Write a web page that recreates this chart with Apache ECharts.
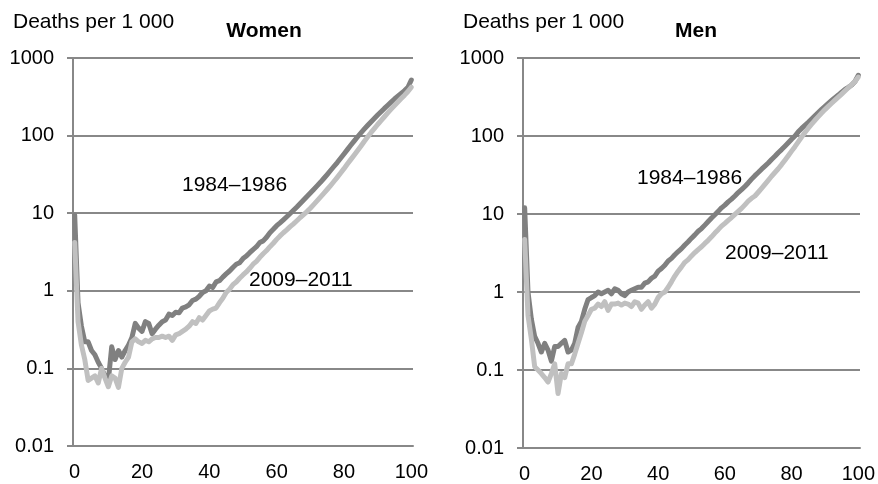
<!DOCTYPE html>
<html>
<head>
<meta charset="utf-8">
<script src="https://cdn.jsdelivr.net/npm/echarts@6/dist/echarts.min.js"></script>
<style>html,body{margin:0;padding:0;background:#fff}#c{width:878px;height:484px}</style>
</head>
<body>
<div id="c"></div>
<script>
const ages = Array.from({length: 101}, (_, i) => String(i));
const yTicks = ['0.01', '0.1', '1', '10', '100', '1000'];
const seriesNames = ['1984–1986', '2009–2011'];
const panelTitles = ['Women', 'Men'];
const yAxisTitle = 'Deaths per 1 000';

const womenOld = [9.5,0.7,0.35,0.22,0.22,0.17,0.15,0.12,0.1,0.08,
  0.07,0.19,0.13,0.17,0.14,0.17,0.2,0.25,0.38,0.33,
  0.3,0.4,0.38,0.28,0.32,0.36,0.4,0.42,0.5,0.48,
  0.53,0.52,0.6,0.62,0.66,0.75,0.78,0.85,0.95,1.0,
  1.15,1.1,1.3,1.35,1.5,1.65,1.8,2.0,2.2,2.3,
  2.6,2.8,3.1,3.4,3.7,4.2,4.4,4.9,5.6,6.2,
  6.9,7.5,8.2,9.0,9.9,10.9,12.0,13.3,14.8,16.4,
  18.2,20.2,22.5,25,28,31.5,35.5,40,45,51,
  58,66,75,85,96,108,121,135,150,166,
  184,203,224,246,270,296,322,350,380,420,520];
const womenNew = [4.2,0.4,0.2,0.13,0.07,0.075,0.08,0.065,0.1,0.075,
  0.058,0.08,0.075,0.057,0.1,0.12,0.14,0.22,0.24,0.22,
  0.21,0.23,0.22,0.24,0.25,0.25,0.26,0.25,0.26,0.23,
  0.27,0.28,0.3,0.32,0.35,0.4,0.38,0.45,0.42,0.48,
  0.55,0.58,0.6,0.7,0.8,0.95,1.05,1.2,1.3,1.45,
  1.6,1.75,1.95,2.2,2.4,2.7,3.0,3.3,3.7,4.1,
  4.6,5.1,5.6,6.1,6.7,7.3,8.0,8.8,9.6,10.5,
  11.6,12.9,14.4,16.1,18.0,20.2,22.7,25.6,29,33,
  37.5,43,49,56,64,73,84,96,109,123,
  139,156,175,196,219,244,271,300,332,370,420];
const menOld = [12,1.0,0.45,0.27,0.22,0.17,0.22,0.18,0.13,0.2,
  0.2,0.22,0.24,0.17,0.18,0.22,0.35,0.42,0.6,0.8,
  0.85,0.9,1.0,0.95,1.0,1.05,0.95,1.1,1.05,0.95,
  0.9,1.0,1.05,1.1,1.15,1.15,1.3,1.35,1.5,1.6,
  1.85,2.0,2.2,2.5,2.7,3.0,3.3,3.6,4.0,4.4,
  4.9,5.4,6.0,6.5,7.2,8.0,8.9,9.8,10.8,12.0,
  13.0,14.3,15.5,17.0,18.8,20.5,22.5,25,28,31,
  34,37.5,41,45,50,55,61,67,74,82,
  91,100,113,125,137,150,165,182,200,220,
  240,262,285,310,335,365,395,420,450,500,600];
const menNew = [4.7,0.5,0.25,0.11,0.1,0.09,0.08,0.07,0.09,0.12,
  0.05,0.09,0.08,0.12,0.12,0.16,0.22,0.3,0.42,0.5,
  0.6,0.62,0.7,0.65,0.75,0.58,0.7,0.7,0.72,0.68,
  0.72,0.7,0.65,0.75,0.72,0.6,0.68,0.75,0.62,0.7,
  0.85,0.95,1.0,1.15,1.35,1.6,1.85,2.1,2.4,2.6,
  2.9,3.2,3.5,3.8,4.2,4.6,5.1,5.7,6.3,7.0,
  7.6,8.3,9.0,9.9,10.8,11.8,13.1,14.6,15.9,17.0,
  19.0,21.3,24,27,30.5,34,38,43,49,56,
  64,73,84,97,111,126,142,159,177,197,
  218,240,263,288,315,345,378,415,455,500,570];

const FONT = 'Liberation Sans, Arial, sans-serif';
const GRID_COLOR = '#888888';
const DARK = '#808080';
const LIGHT = '#c0c0c0';

const grids = [
  {left: 73, right: 465, top: 58, bottom: 38},
  {left: 523, right: 15, top: 58, bottom: 35}
];

function xAxis(i) {
  return {
    type: 'category', gridIndex: i, data: ages, boundaryGap: true,
    axisLine: {show: true, lineStyle: {color: GRID_COLOR, width: 2}},
    axisTick: {show: false},
    axisLabel: {interval: 19, margin: 16, fontSize: 20, color: '#000', fontFamily: FONT}
  };
}
function yAxis(i) {
  return {
    type: 'log', logBase: 10, gridIndex: i, min: 0.01, max: 1000,
    axisLine: {show: true, lineStyle: {color: GRID_COLOR, width: 2}},
    axisTick: {show: true, length: 6, lineStyle: {color: GRID_COLOR, width: 2}},
    splitLine: {show: true, lineStyle: {color: GRID_COLOR, width: 2}},
    axisLabel: {margin: 19, fontSize: 20, color: '#000', fontFamily: FONT,
      formatter: function (v) {
        const idx = Math.round(Math.log10(v)) + 2;
        return yTicks[idx] !== undefined ? yTicks[idx] : '';
      }}
  };
}
function line(name, data, i, color) {
  return {
    name: name, type: 'line', xAxisIndex: i, yAxisIndex: i, data: data,
    showSymbol: false, symbol: 'none', smooth: false,
    lineStyle: {color: color, width: 5, join: 'round', cap: 'round'},
    animation: false, silent: true
  };
}

const chart = echarts.init(document.getElementById('c'), null, {renderer: 'canvas'});
chart.setOption({
  backgroundColor: '#fff',
  animation: false,
  grid: grids,
  xAxis: [xAxis(0), xAxis(1)],
  yAxis: [yAxis(0), yAxis(1)],
  title: [
    {text: panelTitles[0], left: 264, top: 21, padding: 0, textAlign: 'center',
      textStyle: {fontSize: 21, fontWeight: 'bold', color: '#000', fontFamily: FONT}},
    {text: panelTitles[1], left: 696, top: 21, padding: 0, textAlign: 'center',
      textStyle: {fontSize: 21, fontWeight: 'bold', color: '#000', fontFamily: FONT}}
  ],
  graphic: [
    {type: 'text', left: 13, top: 12, style: {text: yAxisTitle, fill: '#000', font: '21px ' + FONT}},
    {type: 'text', left: 463, top: 12, style: {text: yAxisTitle, fill: '#000', font: '21px ' + FONT}},
    {type: 'text', left: 182, top: 175, style: {text: seriesNames[0], fill: '#000', font: '21px ' + FONT}},
    {type: 'text', left: 249, top: 270, style: {text: seriesNames[1], fill: '#000', font: '21px ' + FONT}},
    {type: 'text', left: 637, top: 168, style: {text: seriesNames[0], fill: '#000', font: '21px ' + FONT}},
    {type: 'text', left: 725, top: 243, style: {text: seriesNames[1], fill: '#000', font: '21px ' + FONT}}
  ],
  series: [
    line(seriesNames[0], womenOld, 0, DARK),
    line(seriesNames[1], womenNew, 0, LIGHT),
    line(seriesNames[0], menOld, 1, DARK),
    line(seriesNames[1], menNew, 1, LIGHT)
  ]
});
</script>
</body>
</html>
